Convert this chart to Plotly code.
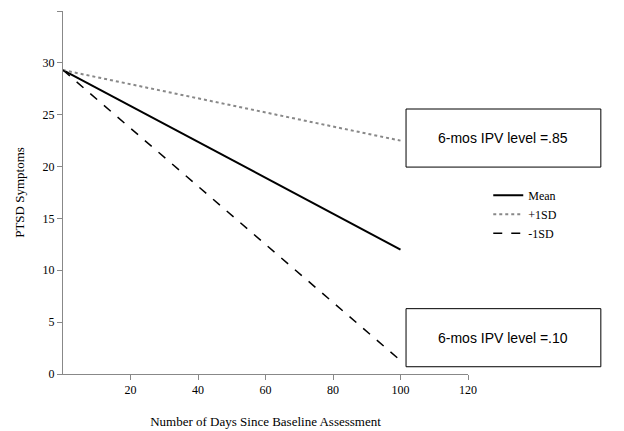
import plotly.graph_objects as go

days = [0, 100]
mean_vals = [29.3, 12.0]
plus_sd = [29.3, 22.5]
minus_sd = [29.3, 1.3]
box_labels = ["6-mos IPV level =.85", "6-mos IPV level =.10"]

fig = go.Figure()
fig.add_trace(go.Scatter(x=days, y=mean_vals, mode="lines", name="Mean",
                         line=dict(color="black", width=2)))
fig.add_trace(go.Scatter(x=days, y=plus_sd, mode="lines", name="+1SD",
                         line=dict(color="#888888", width=2, dash="dot")))
fig.add_trace(go.Scatter(x=days, y=minus_sd, mode="lines", name="-1SD",
                         line=dict(color="black", width=1.5, dash="dash")))

# text boxes (paper coordinates)
for (y0, y1), txt in zip([(0.57, 0.73), (0.02, 0.18)], box_labels):
    fig.add_shape(type="rect", xref="paper", yref="paper", x0=0.847, x1=1.328,
                  y0=y0, y1=y1, line=dict(color="black", width=1), fillcolor="white")
    fig.add_annotation(xref="paper", yref="paper", x=1.0875, y=(y0 + y1) / 2,
                       xanchor="center", yanchor="middle",
                       text=txt, showarrow=False,
                       font=dict(family="Liberation Sans", size=14, color="black"))

fig.update_layout(
    width=624, height=431,
    margin=dict(l=55, r=164, t=3, b=65),
    plot_bgcolor="white", paper_bgcolor="white",
    font=dict(family="Liberation Serif", size=12, color="black"),
    xaxis=dict(range=[0, 120], tickvals=[20, 40, 60, 80, 100, 120],
               showgrid=False, zeroline=False, showline=True, linecolor="#888",
               ticks="outside", tickcolor="#888",
               title=dict(text="Number of Days Since Baseline Assessment",
                          font=dict(size=13), standoff=20)),
    yaxis=dict(range=[0, 35], dtick=5, showgrid=False, zeroline=False,
               showline=True, linecolor="#888", ticks="outside", tickcolor="#888",
               title=dict(text="PTSD Symptoms", font=dict(size=13))),
    legend=dict(x=1.05, y=0.44, xanchor="left", yanchor="middle",
                font=dict(size=12), bgcolor="rgba(0,0,0,0)"),
)

fig.write_html("out.html")
